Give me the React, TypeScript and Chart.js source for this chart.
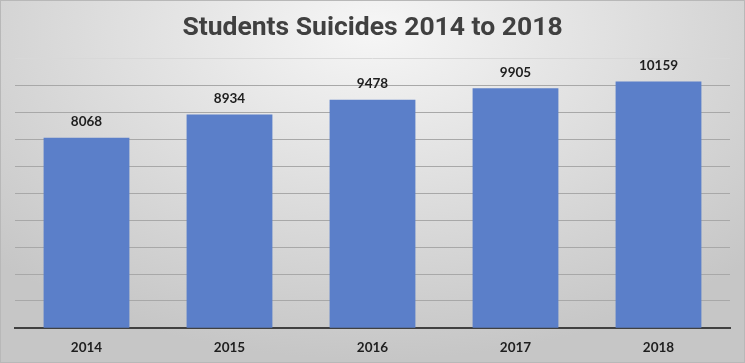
import React, { useEffect, useRef } from "react";
import { Chart, registerables } from "chart.js";

Chart.register(...registerables);

const categories = ["2014", "2015", "2016", "2017", "2018"];
const suicides = [8068, 8934, 9478, 9905, 10159];
const chartTitle = "Students Suicides 2014 to 2018";

const backgroundPlugin = {
  id: "bgGradient",
  beforeDraw(chart: any) {
    const { ctx, width, height } = chart;
    ctx.save();
    ctx.translate(width / 2, 30);
    ctx.scale(1.6, 1);
    const g = ctx.createRadialGradient(0, 0, 0, 0, 0, 330);
    g.addColorStop(0, "#f6f6f6");
    g.addColorStop(1, "#c6c6c6");
    ctx.fillStyle = g;
    ctx.fillRect(-width, -60, width * 2, height + 100);
    ctx.restore();
    ctx.save();
    ctx.strokeStyle = "#b8b8b8";
    ctx.lineWidth = 1;
    ctx.strokeRect(0.5, 0.5, width - 1, height - 1);
    ctx.restore();
  },
};

const valueLabelPlugin = {
  id: "valueLabels",
  afterDatasetsDraw(chart: any) {
    const { ctx } = chart;
    const meta = chart.getDatasetMeta(0);
    const data = chart.data.datasets[0].data;
    ctx.save();
    ctx.font = "bold 13.5px Lato, 'DejaVu Sans', sans-serif";
    ctx.fillStyle = "#1e1e1e";
    ctx.textAlign = "center";
    ctx.textBaseline = "bottom";
    meta.data.forEach((bar: any, i: number) => {
      ctx.fillText(String(data[i]), bar.x, bar.y - 9);
    });
    ctx.restore();
  },
};

export default function App() {
  const ref = useRef<HTMLCanvasElement>(null);
  useEffect(() => {
    document.body.style.margin = "0";
    const chart = new Chart(ref.current as HTMLCanvasElement, {
      type: "bar",
      data: {
        labels: categories,
        datasets: [
          {
            data: suicides,
            backgroundColor: "#5b7fc9",
            borderWidth: 0,
            categoryPercentage: 1,
            barPercentage: 0.6,
          },
        ],
      },
      options: {
        animation: false,
        responsive: false,
        layout: { padding: { left: 15, right: 15, top: 0, bottom: 3 } },
        plugins: {
          legend: { display: false },
          tooltip: { enabled: false },
          title: {
            display: true,
            text: chartTitle,
            color: "#404040",
            font: { family: "Roboto, 'DejaVu Sans', sans-serif", size: 26.5, weight: "bold" },
            padding: { top: 12, bottom: 15 },
          },
        },
        scales: {
          x: {
            grid: { display: false },
            border: { color: "#404040", width: 2 },
            ticks: {
              color: "#1e1e1e",
              padding: 4,
              font: { family: "Lato, 'DejaVu Sans', sans-serif", size: 13.5, weight: "bold" },
            },
          },
          y: {
            min: 1000,
            max: 11000,
            ticks: { display: false, stepSize: 1000 },
            border: { display: false },
            grid: {
              color: (c: any) => (c.tick && c.tick.value === 11000 ? "#d8d8d8" : "#a8a8a8"),
              lineWidth: 1,
              drawTicks: false,
            },
          },
        },
      },
      plugins: [backgroundPlugin, valueLabelPlugin],
    });
    return () => chart.destroy();
  }, []);
  return <canvas ref={ref} width={745} height={363} />;
}
